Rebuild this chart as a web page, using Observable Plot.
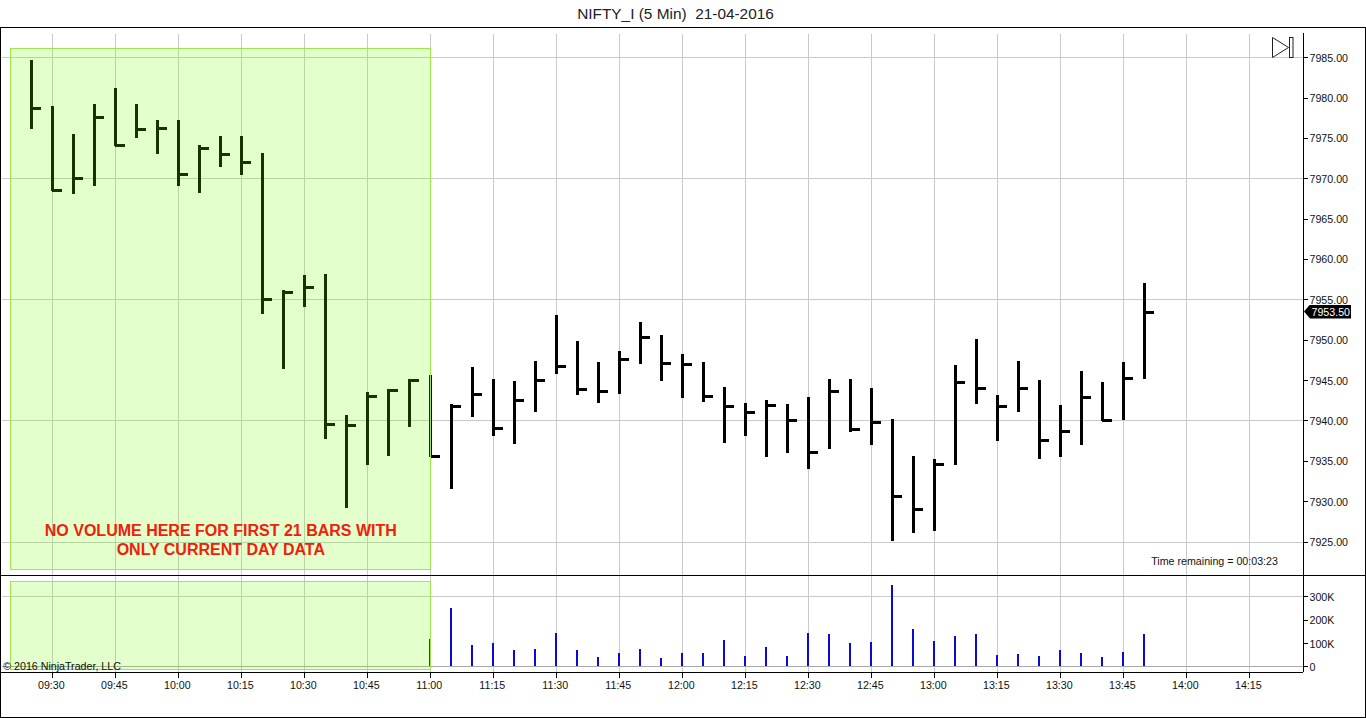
<!DOCTYPE html>
<html><head><meta charset="utf-8">
<script src="https://cdn.jsdelivr.net/npm/d3@7"></script>
<script src="https://cdn.jsdelivr.net/npm/@observablehq/plot@0.6"></script>
<style>
html,body{margin:0;padding:0;background:#fff;overflow:hidden}
#page{position:relative;width:1366px;height:718px;font-family:"Liberation Sans",Arial,sans-serif;color:#111}
#page svg{position:absolute;left:0;background:transparent;overflow:visible}
#title{position:absolute;left:0;width:1351px;top:5px;text-align:center;font-size:15.4px;line-height:18px;color:#222;white-space:pre}
.line{position:absolute;background:#000}
#tag{position:absolute;left:1304px;width:47px;height:14px;background:#000;color:#fff;font-size:10.67px;line-height:14px;text-align:right;padding-right:1px;box-sizing:border-box;clip-path:polygon(0 50%,6px 0,100% 0,100% 100%,6px 100%)}
</style></head><body>
<div id="page">
<div id="title">NIFTY_I (5 Min)  21-04-2016</div>
</div>
<script>
const times=["09:25","09:30","09:35","09:40","09:45","09:50","09:55","10:00","10:05","10:10","10:15","10:20","10:25","10:30","10:35","10:40","10:45","10:50","10:55","11:00","11:05","11:10","11:15","11:20","11:25","11:30","11:35","11:40","11:45","11:50","11:55","12:00","12:05","12:10","12:15","12:20","12:25","12:30","12:35","12:40","12:45","12:50","12:55","13:00","13:05","13:10","13:15","13:20","13:25","13:30","13:35","13:40","13:45","13:50"];
const highs=[7984.7,7979,7975.5,7979.2,7981.2,7979.2,7977.2,7977.2,7974.1,7975.25,7975.25,7973.15,7956.2,7958,7958.1,7940.7,7943.5,7943.9,7945.15,7945.6,7942,7946.6,7945.15,7944.9,7947.4,7953.1,7949.85,7947.25,7948.6,7952.2,7950.6,7948.25,7947.25,7944.15,7942.2,7942.5,7942,7942.9,7945.15,7945.15,7944,7940.2,7935.6,7935.2,7946.9,7950.1,7943.15,7947.4,7945,7941.9,7946.1,7944.75,7947.25,7957];
const lows=[7976.1,7968.4,7968.1,7969,7974,7975,7973.05,7969,7968.2,7971.45,7970.45,7953.2,7946.4,7954,7937.75,7929.2,7934.5,7935.6,7939.25,7935.5,7931.55,7940.4,7938.1,7937.1,7941.1,7945.8,7943.1,7942.2,7943.3,7947,7944.9,7942.8,7942.3,7937.25,7938.1,7935.5,7936,7934,7936.5,7938.6,7937,7925.1,7926,7926.35,7934.5,7942,7937.5,7941.1,7935.25,7935.5,7937,7939.9,7940,7945.1];
const closes=[7978.7,7968.5,7970.05,7977.6,7974.1,7976.1,7976.2,7970.5,7973.7,7973,7972,7955.1,7955.9,7956.5,7939.5,7939.4,7943,7943.75,7945,7935.6,7941.75,7943.25,7939.1,7942.5,7945,7946.7,7943.85,7943.6,7947.6,7950.3,7947.1,7947,7943,7941.75,7941,7941.9,7940,7936.05,7943.6,7939,7939.8,7930.7,7929,7934.6,7944.75,7944,7941.75,7944,7937.55,7938.65,7942.9,7940,7945.2,7953.5];
const volumeTimes=times.slice(19);
const volumes=[117000,249000,91000,100000,70000,74000,142000,70000,40000,57000,74000,35000,57000,57000,112000,44000,82000,44000,142000,138000,100000,104000,347000,159000,108000,130000,138000,48000,53000,44000,70000,57000,40000,61000,138000];
const timeTicks=["09:30","09:45","10:00","10:15","10:30","10:45","11:00","11:15","11:30","11:45","12:00","12:15","12:30","12:45","13:00","13:15","13:30","13:45","14:00","14:15"];
const priceTicks=[7985,7980,7975,7970,7965,7960,7955,7950,7945,7940,7935,7930,7925];
const priceGrid=[7985,7970,7955,7940,7925];
const volumeTicks=[0,100000,200000,300000];
const volumeGrid=[0,300000];
const lastPrice=7953.5;

const toMin=s=>{const [h,m]=s.split(":").map(Number);return h*60+m;};
const fmtMin=m=>String(Math.floor(m/60)).padStart(2,"0")+":"+String(m%60).padStart(2,"0");
const bars=times.map((t,i)=>({t:toMin(t),high:highs[i],low:lows[i],close:closes[i]}));
const vols=volumeTimes.map((t,i)=>({t:toMin(t),v:volumes[i]}));
const xTicks=timeTicks.map(toMin);
const xDomain=[557.55,867.67];
const FONT='"Liberation Sans",Arial,sans-serif';
const GRID="#cacaca";
const crisp={shapeRendering:"crispEdges"};
const shadeX=[toMin("09:20"),toMin("11:00")];
const redLines=[{s:"NO VOLUME HERE FOR FIRST 21 BARS WITH",y:7926.37},{s:"ONLY CURRENT DAY DATA",y:7924.02}];

const pricePlot=Plot.plot({
  width:1366,height:548,marginLeft:0,marginRight:63.5,marginTop:0,marginBottom:0,
  style:{fontFamily:FONT,fontSize:"10.67px",background:"transparent",color:"#111"},
  x:{domain:xDomain,axis:null},
  y:{domain:[7920.85,7988.755],axis:null},
  marks:[
    Plot.ruleX(xTicks,{y1:7987.9,y2:7920.85,stroke:GRID,...crisp}),
    Plot.ruleY(priceGrid,{x1:558,x2:xDomain[1],stroke:GRID,...crisp}),
    Plot.ruleX(bars,{x:"t",y1:"low",y2:"high",stroke:"#000",strokeWidth:3,...crisp}),
    Plot.ruleY(bars,{y:"close",x1:"t",x2:d=>d.t+2.35,stroke:"#000",strokeWidth:3,...crisp}),
    Plot.rect([{}],{x1:()=>shadeX[0],x2:()=>shadeX[1],y1:()=>7921.5,y2:()=>7986.1,fill:"#73ff00",fillOpacity:0.2,stroke:"#9de64f",strokeWidth:1,...crisp}),
    Plot.text(redLines,{x:()=>610,y:"y",text:"s",fill:"#f0200a",fontSize:16,fontWeight:700,fontFamily:FONT}),
    Plot.text([{s:"Time remaining = 00:03:23"}],{x:()=>861.7,y:()=>7922.6,text:"s",textAnchor:"end",fill:"#111",fontSize:10.67}),
    Plot.ruleX([xDomain[1]],{y1:7988,y2:7920.85,stroke:"#000",...crisp}),
    Plot.text(priceTicks,{x:()=>xDomain[1],y:d=>d,dx:6.5,dy:0.5,text:d=>d.toFixed(2),textAnchor:"start",fill:"#111",fontSize:10.67}),
    Plot.ruleY(priceTicks,{y:d=>d,x1:()=>xDomain[1],x2:()=>xDomain[1]+1.4,stroke:"#000",...crisp})
  ]
});
pricePlot.style.top="27px";

const volumePlot=Plot.plot({
  width:1366,height:143,marginLeft:0,marginRight:63.5,marginTop:0,marginBottom:46,
  style:{fontFamily:FONT,fontSize:"10.67px",background:"transparent",color:"#111"},
  x:{domain:xDomain,axis:null},
  y:{domain:[-24359,390171],axis:null},
  marks:[
    Plot.ruleX(xTicks,{y1:-24359,y2:390171,stroke:GRID,...crisp}),
    Plot.ruleY(volumeGrid,{x1:558,x2:xDomain[1],stroke:d=>d===0?"#a8a8a8":GRID,...crisp}),
    Plot.ruleX(vols,{x:"t",y1:0,y2:"v",dx:-0.5,stroke:"#0a0ad0",strokeWidth:2,...crisp}),
    Plot.rect([{}],{x1:()=>shadeX[0],x2:()=>shadeX[1],y1:()=>-14000,y2:()=>363000,fill:"#73ff00",fillOpacity:0.2,stroke:"#9de64f",strokeWidth:1,...crisp}),
    Plot.text([{s:"© 2016 NinjaTrader, LLC"}],{x:()=>558.2,y:()=>0,text:"s",textAnchor:"start",fill:"#111",fontSize:10.67}),
    Plot.ruleX([xDomain[1]],{y1:-24359,y2:390171,stroke:"#000",...crisp}),
    Plot.ruleY(volumeTicks,{y:d=>d,x1:()=>xDomain[1],x2:()=>xDomain[1]+1.4,stroke:"#000",...crisp}),
    Plot.text(volumeTicks,{x:()=>xDomain[1],y:d=>d,dx:6.5,dy:1,text:d=>d===0?"0":d/1000+"K",textAnchor:"start",fill:"#111",fontSize:10.67}),
    Plot.ruleY([-24359],{x1:xDomain[0],x2:xDomain[1],stroke:"#000",...crisp}),
    Plot.ruleX(xTicks,{y1:-24359,y2:-50000,stroke:"#000",...crisp}),
    Plot.text(xTicks,{x:d=>d,y:()=>-79500,dx:-1.5,text:fmtMin,fill:"#111",fontSize:10.67})
  ]
});
volumePlot.style.top="575px";

const page=document.getElementById("page");
page.appendChild(pricePlot);
page.appendChild(volumePlot);

function addLine(l,t,w,h){const d=document.createElement("div");d.className="line";d.style.cssText=`left:${l}px;top:${t}px;width:${w}px;height:${h}px`;page.appendChild(d);}
addLine(0,27,1366,1);
addLine(0,27,1,691);
addLine(1365,27,1,691);
addLine(0,717,1366,1);
addLine(0,575,1366,1);

const tag=document.createElement("div");
tag.id="tag";tag.textContent=lastPrice.toFixed(2);
tag.style.top=(27+pricePlot.scale("y").apply(lastPrice)-7)+"px";
page.appendChild(tag);

page.insertAdjacentHTML("beforeend",'<svg style="top:37px;left:1272px" width="22" height="22"><path d="M0.5 0.5V20.5L16.5 10.5Z" fill="#fff" stroke="#222"/><rect x="17.5" y="0.5" width="3.5" height="20" fill="#fff" stroke="#222"/></svg>');
</script>
</body></html>
